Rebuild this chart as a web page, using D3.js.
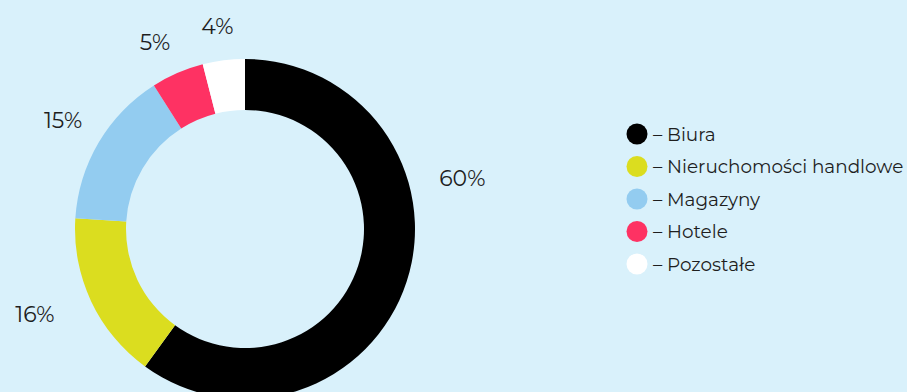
<!DOCTYPE html>
<html lang="pl">
<head>
<meta charset="UTF-8">
<title>Struktura</title>
<style>
  html, body { margin: 0; padding: 0; background: #d9f1fb; }
  svg { display: block; }
  text { font-family: "Montserrat", "Lato", "Noto Sans", sans-serif; fill: #1e1e1e; }
</style>
</head>
<body>
<svg width="907" height="392"></svg>
<script src="https://cdn.jsdelivr.net/npm/d3@7"></script>
<script>

var categories = ["Biura", "Nieruchomości handlowe", "Magazyny", "Hotele", "Pozostałe"];
var values = [60, 16, 15, 5, 4];
var colors = ["#000000", "#dbdd1f", "#93ccf0", "#fe3263", "#ffffff"];

var svg = d3.select("svg"),
    width = +svg.attr("width"),
    height = +svg.attr("height");

var cx = 245, cy = 229,
    outer = 170, inner = 119;

var pie = d3.pie().sort(null).value(function(d) { return d; });
var arcs = pie(values);

var arc = d3.arc().innerRadius(inner).outerRadius(outer);

var g = svg.append("g").attr("transform", "translate(" + cx + "," + cy + ")");

g.selectAll("path")
    .data(arcs)
    .enter().append("path")
    .attr("d", arc)
    .attr("fill", function(d, i) { return colors[i]; });

// label placement: distance from centre and a small angle nudge per slice
function labelPos(d, i) {
    var rr = [223, 227, 212, 207, 204][i];
    var shift = [-31, 3, 0.3, -2.4, -0.6][i] * Math.PI / 180;
    var a = (d.startAngle + d.endAngle) / 2 + shift;
    return [rr * Math.sin(a), -rr * Math.cos(a)];
}

g.selectAll("text.pct")
    .data(arcs)
    .enter().append("text")
    .attr("class", "pct")
    .attr("text-anchor", "middle")
    .attr("dominant-baseline", "central")
    .style("font-size", "22px")
    .attr("transform", function(d, i) { return "translate(" + labelPos(d, i) + ")"; })
    .text(function(d) { return d.value + "%"; });

// legend
var legend = svg.append("g").attr("transform", "translate(637,134)");
var row = d3.scaleBand().domain(categories).range([0, 32.5 * categories.length]);

var item = legend.selectAll("g")
    .data(categories)
    .enter().append("g")
    .attr("transform", function(d) { return "translate(0," + row(d) + ")"; });

item.append("circle")
    .attr("r", 10.5)
    .attr("fill", function(d, i) { return colors[i]; });

item.append("text")
    .attr("x", 16)
    .attr("dominant-baseline", "central")
    .style("font-size", "18.4px")
    .text(function(d) { return "– " + d; });

</script>
</body>
</html>
